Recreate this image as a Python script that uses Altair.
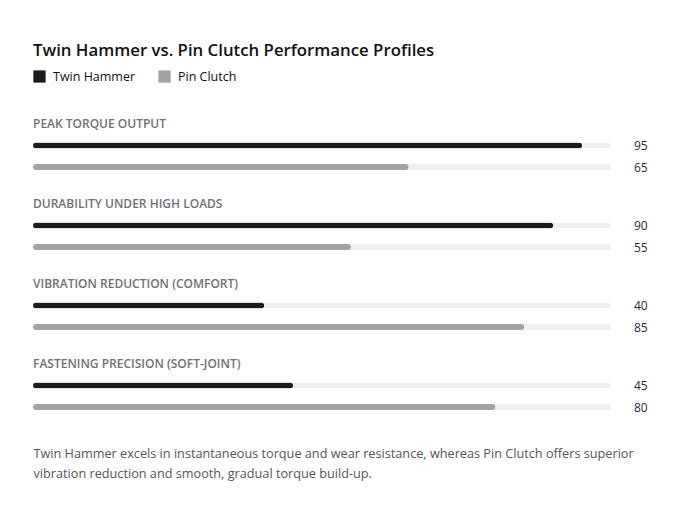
import altair as alt
import pandas as pd

categories = [
    "PEAK TORQUE OUTPUT",
    "DURABILITY UNDER HIGH LOADS",
    "VIBRATION REDUCTION (COMFORT)",
    "FASTENING PRECISION (SOFT-JOINT)",
]
series = ["Twin Hammer", "Pin Clutch"]
twin_hammer = [95, 90, 40, 45]
pin_clutch = [65, 55, 85, 80]
title_text = "Twin Hammer vs. Pin Clutch Performance Profiles"
footer_lines = [
    "Twin Hammer excels in instantaneous torque and wear resistance, whereas Pin Clutch offers superior",
    "vibration reduction and smooth, gradual torque build-up.",
]

rows = []
for i, c in enumerate(categories):
    rows.append({"category": c, "series": "Twin Hammer", "value": twin_hammer[i], "track": 100})
    rows.append({"category": c, "series": "Pin Clutch", "value": pin_clutch[i], "track": 100})
bars = pd.DataFrame(rows)
labels = pd.DataFrame({"category": categories, "slot": ["label"] * len(categories), "zero": [0] * len(categories)})

FONT = "Open Sans"
slots = ["label"] + series

xscale = alt.Scale(domain=[0, 100], nice=False, zero=True)
xaxis = alt.Axis(
    title=footer_lines,
    labels=False, ticks=False, domain=False, grid=False,
    titleAnchor="start", titleAlign="left", titleFontSize=12.7, titleFontWeight="normal",
    titleColor="#555555", titleLineHeight=20, titlePadding=15, titleBaseline="top",
    titleFont=FONT,
)
yenc = alt.Y("category:N", sort=categories, scale=alt.Scale(paddingInner=0, paddingOuter=0), axis=None)
yoff_scale = alt.Scale(domain=slots, paddingInner=0, paddingOuter=0.36, align=0.08)

base = alt.Chart(bars)

track = base.mark_bar(size=6, cornerRadius=3, color="#f0f0f0").encode(
    x=alt.X("track:Q", scale=xscale, axis=xaxis),
    y=yenc,
    yOffset=alt.YOffset("series:N", scale=yoff_scale),
)

value_bars = base.mark_bar(size=6, cornerRadius=3).encode(
    x=alt.X("value:Q", scale=xscale, axis=xaxis),
    y=yenc,
    yOffset=alt.YOffset("series:N", scale=yoff_scale),
    color=alt.Color(
        "series:N",
        scale=alt.Scale(domain=series, range=["#1c1c1e", "#a1a1a8"]),
        legend=alt.Legend(
            title=None, orient="none", legendX=0, legendY=-42, direction="horizontal",
            symbolType="square", symbolSize=150, symbolStrokeWidth=0, symbolOpacity=1,
            labelFontSize=12.5, labelColor="#111111", labelFont=FONT, labelFontWeight=500,
            labelOffset=7, columnPadding=22,
        ),
    ),
)

value_text = base.mark_text(align="left", baseline="middle", dx=23, dy=1, fontSize=12, font=FONT, color="#1e2a44").encode(
    x=alt.X("track:Q", scale=xscale, axis=xaxis),
    y=yenc,
    yOffset=alt.YOffset("series:N", scale=yoff_scale),
    text=alt.Text("value:Q"),
)

cat_text = alt.Chart(labels).mark_text(
    align="left", baseline="middle", fontSize=12, font=FONT, fontWeight=600, color="#707076"
).encode(
    x=alt.X("zero:Q", scale=xscale, axis=xaxis),
    y=yenc,
    yOffset=alt.YOffset("slot:N", scale=yoff_scale),
    text="category:N",
)

chart = alt.layer(track, value_bars, value_text, cat_text).properties(
    width=578,
    height=320,
    padding={"left": 25, "top": 104, "right": 50, "bottom": 70},
    autosize=alt.AutoSizeParams(type="none"),
    title=alt.TitleParams(
        text=title_text, anchor="start", frame="group", fontSize=16.8, fontWeight=600,
        color="#111111", font=FONT, offset=10,
    ),
).configure(background="white", view=alt.ViewConfig(stroke=None))

chart.save("out.html", embed_options={"renderer": "svg", "actions": False})
